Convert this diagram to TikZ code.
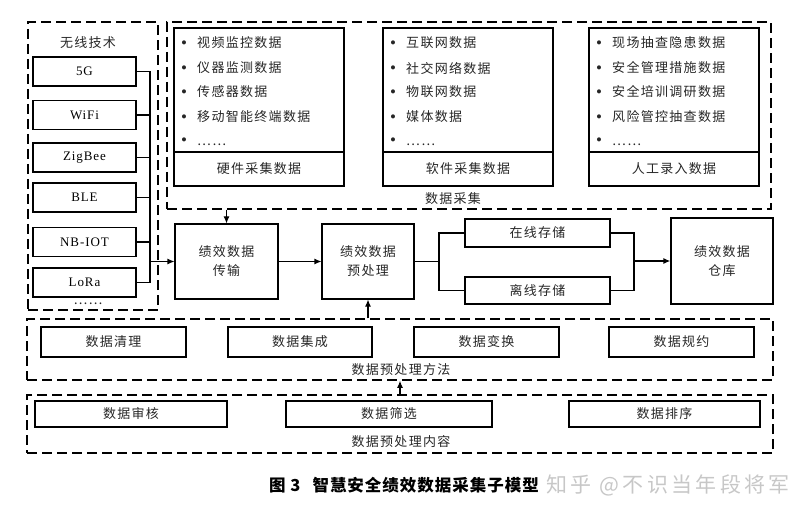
\documentclass[tikz,border=0pt]{standalone}
\usepackage{fontspec}
\setmainfont{Liberation Serif}
\newfontfamily\cjk{Noto Sans CJK SC}[LetterSpace=10]
\newfontfamily\cjkcap{Noto Sans CJK SC}[LetterSpace=6]
\newfontfamily\cjkwm{Noto Sans CJK SC}[LetterSpace=16]
\newfontfamily\lat{Liberation Serif}[LetterSpace=7]
\usetikzlibrary{arrows.meta}
\newcommand{\bul}{\makebox[16pt][l]{\raisebox{-0.5pt}{\rmfamily\fontsize{17}{17}\selectfont\textbullet}}}
\tikzset{
  dbox/.style={draw, line width=1.5pt, dash pattern=on 10pt off 5pt, inner sep=0pt},
  sbox/.style={draw, line width=1.1pt, inner sep=0pt, align=center, text=black!85,
    font=\cjk\fontsize{13}{19}\selectfont},
  wbox/.style={sbox, line width=1.4pt, minimum width=103pt, minimum height=29pt, text=black, font=\lat\fontsize{13}{15}\selectfont},
  item/.style={anchor=west, inner sep=0pt, text=black!85, font=\cjk\fontsize{13}{15}\selectfont},
  lbl/.style={inner sep=0pt, text=black!85, font=\cjk\fontsize{13}{15}\selectfont},
  conn/.style={line width=1.1pt},
  arr/.style={conn, -{Latex[length=7pt,width=6pt]}},
}
\begin{document}
\begin{tikzpicture}[x=1pt,y=-1pt]
\useasboundingbox (0,0) rectangle (812,516);
% dashed groups
\node[dbox, minimum width=130pt, minimum height=288pt] (wireless) at (93,166) {};
\node[dbox, minimum width=604pt, minimum height=187pt] (collect) at (469,115.5) {};
\node[dbox, minimum width=746pt, minimum height=61pt] (methods) at (400,349.5) {};
\node[dbox, minimum width=746pt, minimum height=58pt] (content) at (400,424) {};
% wireless
\node[lbl] (wtitle) at (88,43) {无线技术};
\node[wbox] (w5g) at (84.5,71.5) {5G};
\node[wbox] (wwifi) at (84.5,115) {WiFi};
\node[wbox] (wzig) at (84.5,157.5) {ZigBee};
\node[wbox] (wble) at (84.5,197.5) {BLE};
\node[wbox] (wnb) at (84.5,242) {NB-IOT};
\node[wbox] (wlora) at (84.5,282.5) {LoRa};
\node[lbl] (wdots) at (88,304) {……};
% collection boxes
\node[sbox, minimum width=170pt, minimum height=124pt] (hwlist) at (259,90) {};
\node[sbox, minimum width=170pt, minimum height=34pt] (hwlbl) at (259,169) {硬件采集数据};
\node[sbox, minimum width=170pt, minimum height=124pt] (swlist) at (468,90) {};
\node[sbox, minimum width=170pt, minimum height=34pt] (swlbl) at (468,169) {软件采集数据};
\node[sbox, minimum width=170pt, minimum height=124pt] (mnlist) at (674,90) {};
\node[sbox, minimum width=170pt, minimum height=34pt] (mnlbl) at (674,169) {人工录入数据};
\node[item] (h1) at (181,43) {\bul 视频监控数据};
\node[item] (h2) at (181,68) {\bul 仪器监测数据};
\node[item] (h3) at (181,92) {\bul 传感器数据};
\node[item] (h4) at (181,117) {\bul 移动智能终端数据};
\node[item] (h5) at (181,142) {\bul ……};
\node[item] (s1) at (390,43) {\bul 互联网数据};
\node[item] (s2) at (390,68) {\bul 社交网络数据};
\node[item] (s3) at (390,92) {\bul 物联网数据};
\node[item] (s4) at (390,117) {\bul 媒体数据};
\node[item] (s5) at (390,142) {\bul ……};
\node[item] (m1) at (596,43) {\bul 现场抽查隐患数据};
\node[item] (m2) at (596,68) {\bul 安全管理措施数据};
\node[item] (m3) at (596,92) {\bul 安全培训调研数据};
\node[item] (m4) at (596,117) {\bul 风险管控抽查数据};
\node[item] (m5) at (596,142) {\bul ……};
\node[lbl] (ctitle) at (453,199) {数据采集};
% middle row
\node[sbox, minimum width=103pt, minimum height=75pt] (trans) at (226.5,261.5) {绩效数据\\传输};
\node[sbox, minimum width=92pt, minimum height=75pt] (prep) at (368,261.5) {绩效数据\\预处理};
\node[sbox, minimum width=145pt, minimum height=28pt] (online) at (537.5,233) {在线存储};
\node[sbox, minimum width=145pt, minimum height=27pt] (offline) at (537.5,290.5) {离线存储};
\node[sbox, minimum width=102pt, minimum height=86pt] (wh) at (722,261) {绩效数据\\仓库};
% methods
\node[sbox, minimum width=145pt, minimum height=30pt] (me1) at (113.5,342) {数据清理};
\node[sbox, minimum width=144pt, minimum height=30pt] (me2) at (300,342) {数据集成};
\node[sbox, minimum width=145pt, minimum height=30pt] (me3) at (486.5,342) {数据变换};
\node[sbox, minimum width=145pt, minimum height=30pt] (me4) at (681.5,342) {数据规约};
\node[lbl] (mtitle) at (401,370) {数据预处理方法};
% content
\node[sbox, minimum width=192pt, minimum height=26pt] (co1) at (131,414) {数据审核};
\node[sbox, minimum width=206pt, minimum height=26pt] (co2) at (389,414) {数据筛选};
\node[sbox, minimum width=191pt, minimum height=26pt] (co3) at (664.5,414) {数据排序};
\node[lbl] (ctitle2) at (401,442) {数据预处理内容};
% connectors
\coordinate (wbus) at (150,0);
\draw[conn] (w5g.east) -- (w5g.east -| wbus) -- (wlora.east -| wbus) -- (wlora.east);
\draw[conn] (wwifi.east) -- (wwifi.east -| wbus);
\draw[conn] (wzig.east) -- (wzig.east -| wbus);
\draw[conn] (wble.east) -- (wble.east -| wbus);
\draw[conn] (wnb.east) -- (wnb.east -| wbus);
\draw[arr] (trans.west -| wbus) -- (trans.west);
\draw[arr] (trans.north |- collect.south) -- (trans.north);
\draw[arr] (trans.east) -- (prep.west);
\coordinate (pbus) at (439,0);
\draw[conn] (prep.east) -- (prep.east -| pbus);
\draw[conn] (online.west) -- (online.west -| pbus) -- (offline.west -| pbus) -- (offline.west);
\coordinate (sbus) at (634,0);
\draw[conn] (online.east) -- (online.east -| sbus) -- (offline.east -| sbus) -- (offline.east);
\draw[arr, line width=1.6pt] (wh.west -| sbus) -- (wh.west);
\draw[arr] (prep.south |- methods.north) -- (prep.south);
\draw[arr] (content.north) -- (methods.south);
% caption
\node[anchor=west, inner sep=0pt, font=\cjkcap\bfseries\fontsize{16.5}{18}\selectfont] (cap) at (269,485) {图 3\hspace{12pt}智慧安全绩效数据采集子模型};
\node[anchor=west, inner sep=0pt, text=black!22, font=\cjkwm\fontsize{21}{23}\selectfont] (wm) at (546,485) {知乎 @不识当年段将军};
\end{tikzpicture}
\end{document}
